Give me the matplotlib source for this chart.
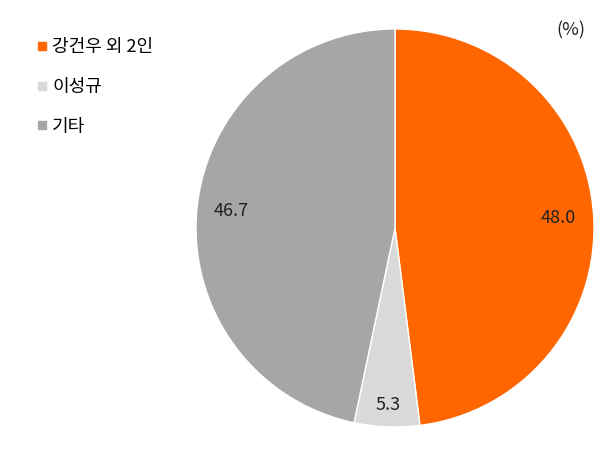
import numpy as np
import matplotlib.pyplot as plt
from matplotlib.lines import Line2D

plt.rcParams['font.family'] = ['Noto Sans CJK KR', 'DejaVu Sans']

labels = ['강건우 외 2인', '이성규', '기타']
values = [48.0, 5.3, 46.7]
colors = ['#ff6600', '#d9d9d9', '#a6a6a6']

fig = plt.figure(figsize=(6.1, 4.63), dpi=100)
ax = fig.add_axes([0.3197, 0.0756, 0.6557, 0.864])

wedges, _ = ax.pie(values, colors=colors, startangle=90, counterclock=False,
                   wedgeprops=dict(edgecolor='white', linewidth=1))
ax.set_aspect('equal')
ax.set_xlim(-1.005, 1.005)
ax.set_ylim(-1.005, 1.005)

# 값 라벨
dists = [0.82, 0.89, 0.83]
for w, v, d in zip(wedges, values, dists):
    ang = np.deg2rad((w.theta1 + w.theta2) / 2)
    ax.text(d * np.cos(ang), d * np.sin(ang), f'{v:.1f}', ha='center', va='center',
            fontsize=13, color='#222222')

# 범례
handles = [Line2D([0], [0], marker='s', linestyle='', markersize=6,
                  markerfacecolor=c, markeredgecolor=c) for c in colors]
fig.legend(handles, labels, loc='upper left', bbox_to_anchor=(0.035, 0.952),
           frameon=False, fontsize=13, handlelength=0.5, handletextpad=0.3,
           labelspacing=1.2)

fig.text(0.96, 0.935, '(%)', ha='right', va='center', fontsize=13, color='#222222')

fig.savefig('out.png', dpi=100)
